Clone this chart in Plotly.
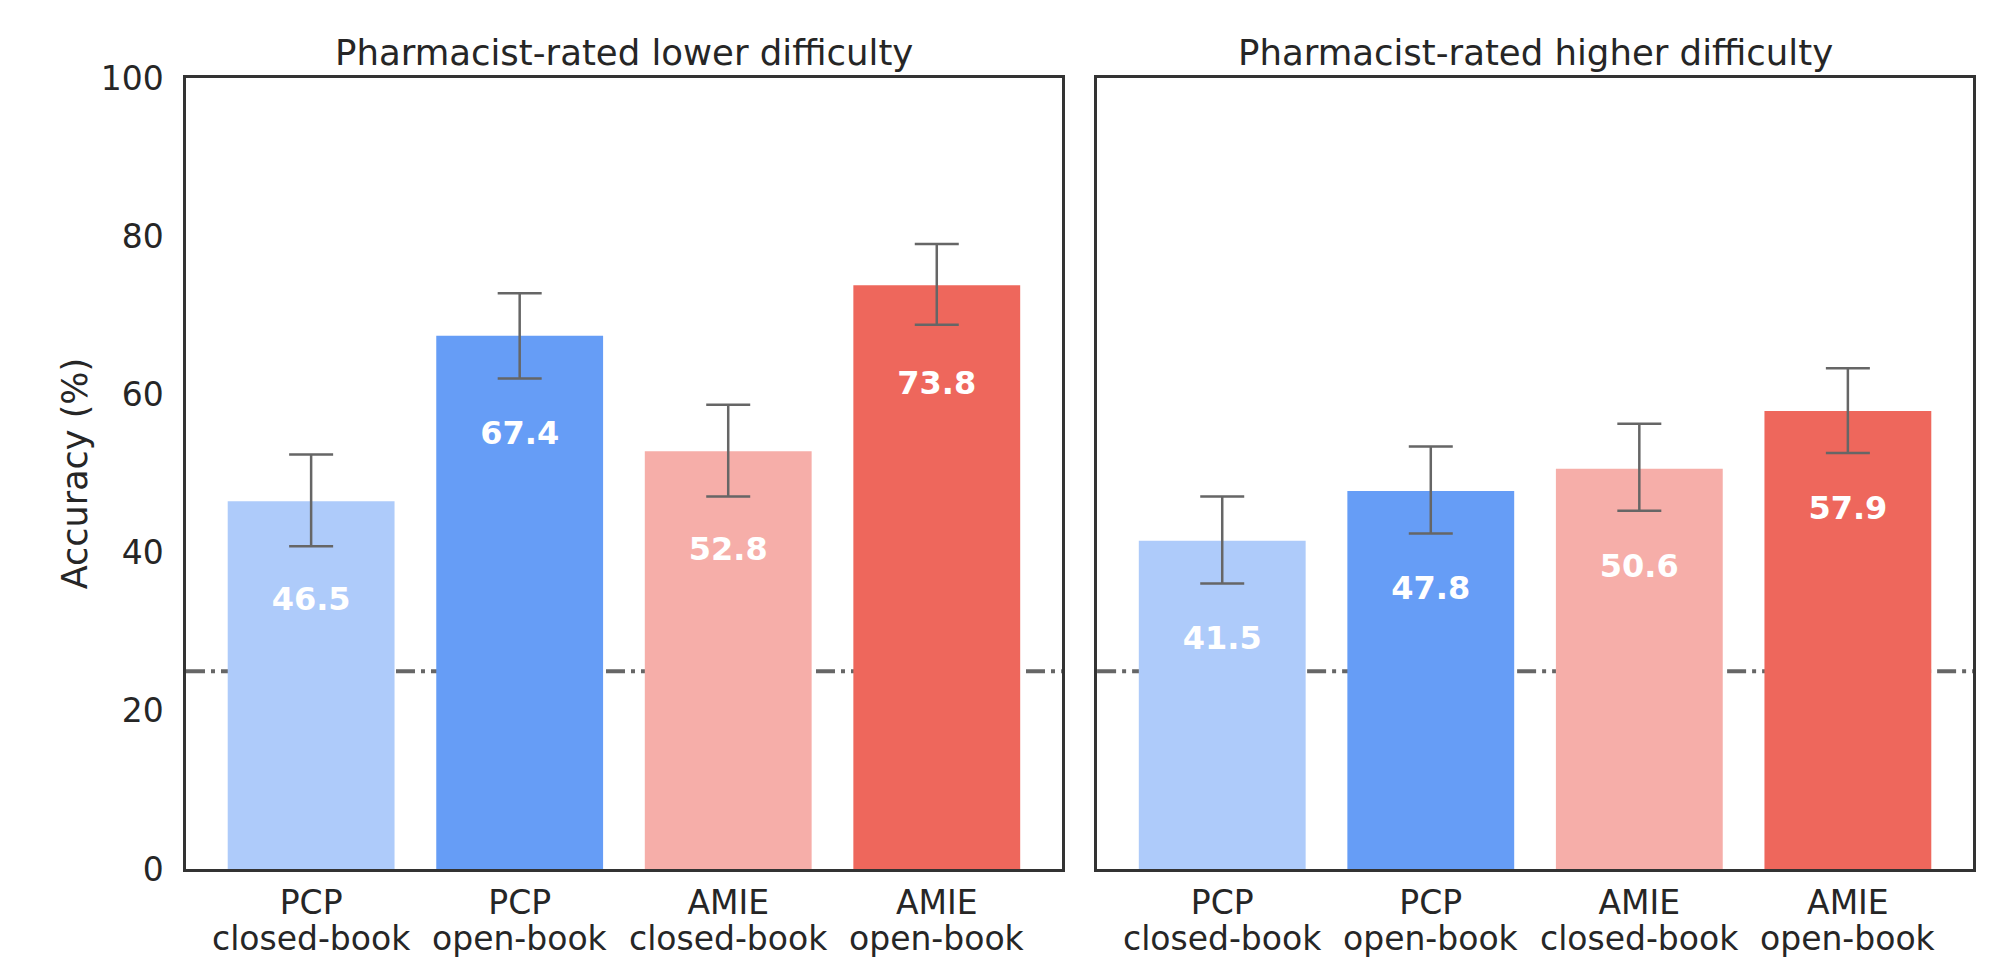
import plotly.graph_objects as go
from plotly.subplots import make_subplots

cat_line1 = ["PCP", "PCP", "AMIE", "AMIE"]
cat_line2 = ["closed-book", "open-book", "closed-book", "open-book"]
panel_titles = ["Pharmacist-rated lower difficulty", "Pharmacist-rated higher difficulty"]

lower_vals = [46.5, 67.4, 52.8, 73.8]
lower_ci_hi = [52.4, 72.8, 58.7, 79.0]
lower_ci_lo = [40.8, 62.0, 47.1, 68.8]

higher_vals = [41.5, 47.8, 50.6, 57.9]
higher_ci_hi = [47.1, 53.4, 56.3, 63.3]
higher_ci_lo = [36.1, 42.4, 45.3, 52.6]

chance_level = 25
bar_colors = ["#aecbfa", "#669df6", "#f6aea9", "#ee675c"]
y_ticks = [0, 20, 40, 60, 80, 100]

FONT = "DejaVu Sans"
TXT = "#262626"

fig = make_subplots(rows=1, cols=2, shared_yaxes=False, horizontal_spacing=0.0197)

panels = [(lower_vals, lower_ci_hi, lower_ci_lo), (higher_vals, higher_ci_hi, higher_ci_lo)]
xpos = list(range(len(cat_line1)))
for i, (vals, hi, lo) in enumerate(panels, start=1):
    fig.add_trace(go.Bar(
        x=xpos, y=vals, width=0.8,
        marker=dict(color=bar_colors, line=dict(width=0)),
        error_y=dict(type="data", symmetric=False,
                     array=[h - v for h, v in zip(hi, vals)],
                     arrayminus=[v - l for v, l in zip(vals, lo)],
                     color="#666666", thickness=2.5, width=22),
        showlegend=False, hoverinfo="skip"), row=1, col=i)
    fig.add_trace(go.Scatter(
        x=xpos, y=[v - 12.7 for v in vals], mode="text",
        text=[f"{v:.1f}" for v in vals],
        textfont=dict(family=FONT, size=32, color="white", weight="bold"),
        showlegend=False, hoverinfo="skip"), row=1, col=i)
    xname = "x" if i == 1 else "x2"
    yname = "y" if i == 1 else "y2"
    fig.add_shape(type="line", xref=xname + " domain", yref=yname, x0=0, x1=1,
                  y0=chance_level, y1=chance_level,
                  line=dict(color="#666666", width=4, dash="19px,6px,4px,6px"), layer="below")
    for xp, t in zip(xpos, cat_line2):
        fig.add_annotation(text=t, x=xp, xref=xname, y=0, yref="paper", xanchor="center",
                           yanchor="top", yshift=-48, showarrow=False,
                           font=dict(family=FONT, size=33, color=TXT))

axis_common = dict(showgrid=False, zeroline=False, showline=True, linecolor="#333333",
                   linewidth=2.5, mirror=True, ticks="", automargin=False)
for i in (1, 2):
    fig.update_xaxes(range=[-0.6, 3.6], tickmode="array", tickvals=xpos, ticktext=cat_line1,
                     tickfont=dict(family=FONT, size=33, color=TXT), ticklabelstandoff=3,
                     row=1, col=i, **axis_common)
    fig.update_yaxes(range=[0, 100], tickvals=y_ticks, row=1, col=i,
                     tickfont=dict(family=FONT, size=33, color=TXT), ticklabelstandoff=13,
                     showticklabels=(i == 1), **axis_common)

fig.update_yaxes(title=dict(text="Accuracy (%)", font=dict(family=FONT, size=35, color=TXT), standoff=3),
                 row=1, col=1)

for i, t in enumerate(panel_titles):
    xd = fig.layout.xaxis.domain if i == 0 else fig.layout.xaxis2.domain
    fig.add_annotation(text=t, x=(xd[0] + xd[1]) / 2, y=1, xref="paper", yref="paper",
                       xanchor="center", yanchor="bottom", yshift=3, showarrow=False,
                       font=dict(family=FONT, size=35.5, color=TXT))

fig.update_layout(width=1989, height=954, margin=dict(l=178, r=24, t=70, b=93, autoexpand=False),
                  plot_bgcolor="white", paper_bgcolor="white", bargap=0.2,
                  font=dict(family=FONT, color=TXT))

fig.write_html("out.html")
